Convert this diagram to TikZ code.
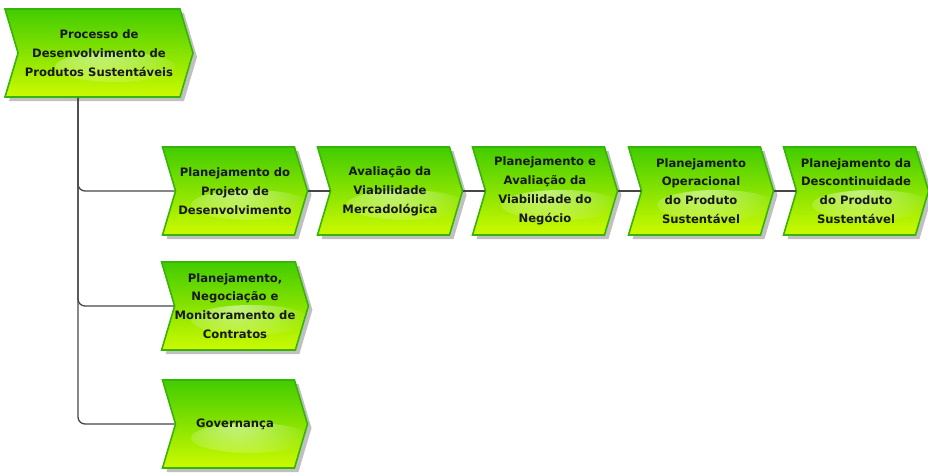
\documentclass[tikz,border=0pt]{standalone}
\usepackage{fontspec}
\setmainfont{DejaVu Sans}
\usepackage{xcolor}
\definecolor{epcgreen}{RGB}{66,204,0}
\definecolor{epcmid}{RGB}{140,230,0}
\definecolor{epclime}{RGB}{204,250,0}
\definecolor{epcedge}{RGB}{55,180,10}
\definecolor{epcline}{RGB}{70,70,70}
\usetikzlibrary{shapes.symbols, shadows, calc, fadings}
\tikzfading[name=gloss, inner color=transparent!0, outer color=transparent!100]

\begin{document}
\begin{tikzpicture}[x=1pt, y=-1pt,
  proc/.style={signal, signal to=east, signal from=west, signal pointer angle=147,
               draw=epcedge, line width=1.6pt, top color=epcgreen, middle color=epcmid, bottom color=epclime,
               minimum width=145pt, minimum height=88pt, inner sep=0pt, align=center,
               font=\fontsize{11.6}{18.8}\selectfont\bfseries, text=black!90,
               drop shadow={shadow xshift=4pt, shadow yshift=-4pt, fill=black!45, opacity=0.55},
               path picture={\fill[white, opacity=0.5, path fading=gloss]
                 ($(path picture bounding box.center)+(16pt,-14pt)$) ellipse [x radius=60pt, y radius=15pt];}},
  link/.style={draw=epcline, line width=1.3pt, rounded corners=7pt}
]
\useasboundingbox (0,0) rectangle (928,475);

% Main process
\node[proc, minimum width=188pt] (main) at (99,53) {Processo de\\Desenvolvimento de\\Produtos Sustentáveis};

% Row 1: chain of sub-processes
\node[proc] (projeto) at (235,191) {Planejamento do\\Projeto de\\Desenvolvimento};
\node[proc] (mercado) at (390,191) {Avaliação da\\Viabilidade\\Mercadológica};
\node[proc] (negocio) at (545,191) {Planejamento e\\Avaliação da\\Viabilidade do\\Negócio};
\node[proc] (operac) at (701,191) {Planejamento\\Operacional\\do Produto\\Sustentável};
\node[proc] (descont) at (856,191) {Planejamento da\\Descontinuidade\\do Produto\\Sustentável};

% Rows 2 and 3
\node[proc] (contratos) at (235,306) {Planejamento,\\Negociação e\\Monitoramento de\\Contratos};
\node[proc] (governa) at (235,424) {Governança};

% Connectors
\coordinate (trunk) at ($(main.south)+(-21pt,0)$);
\draw[link] (trunk) |- (projeto.west);
\draw[link] (trunk) |- (contratos.west);
\draw[link] (trunk) |- (governa.west);
\draw[link] (projeto.east) -- (mercado.west);
\draw[link] (mercado.east) -- (negocio.west);
\draw[link] (negocio.east) -- (operac.west);
\draw[link] (operac.east) -- (descont.west);
\end{tikzpicture}
\end{document}
